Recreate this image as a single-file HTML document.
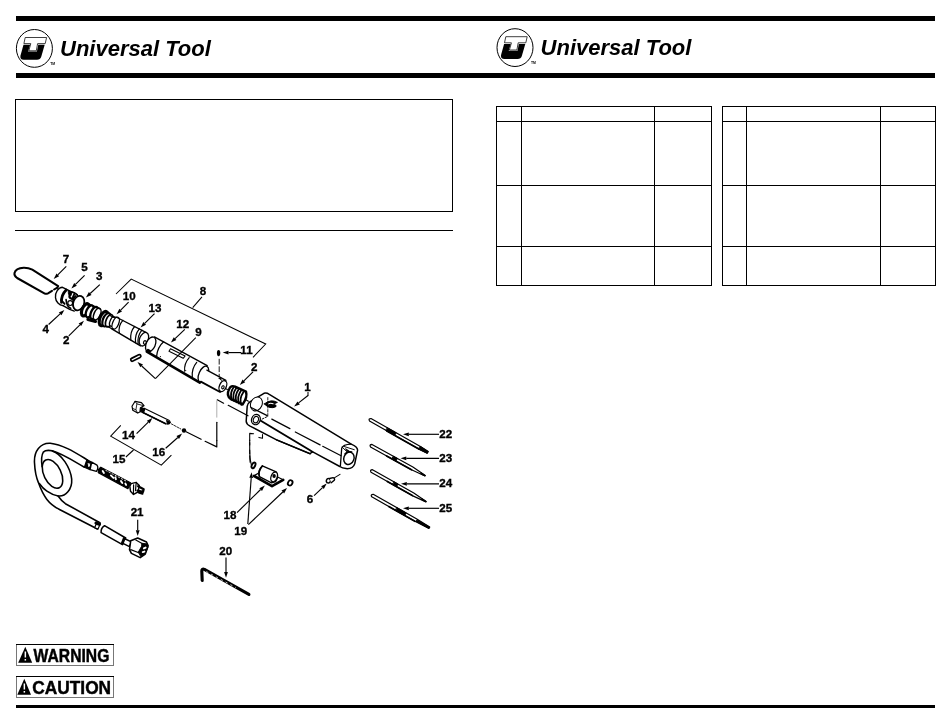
<!DOCTYPE html>
<html><head><meta charset="utf-8">
<style>
html,body{margin:0;padding:0;background:#fff;}
body{width:950px;height:721px;position:relative;overflow:hidden;font-family:"Liberation Sans",sans-serif;}
svg{position:absolute;left:0;top:0;will-change:transform;}
text{font-family:"Liberation Sans",sans-serif;}
</style></head><body>
<svg width="950" height="721" viewBox="0 0 950 721">
<!-- FRAME -->
<g id="frame" fill="#000" shape-rendering="crispEdges">
<rect x="16" y="16" width="919" height="5"/>
<rect x="16" y="73" width="919" height="5"/>
<rect x="16" y="705" width="919" height="3"/>
<!-- notice box -->
<rect x="15" y="99" width="438" height="1"/>
<rect x="15" y="211" width="438" height="1"/>
<rect x="15" y="99" width="1" height="113"/>
<rect x="452" y="99" width="1" height="113"/>
<rect x="15" y="230" width="438" height="1"/>
<!-- table 1 -->
<rect x="496" y="106" width="216" height="1"/>
<rect x="496" y="121" width="216" height="1"/>
<rect x="496" y="185" width="216" height="1"/>
<rect x="496" y="246" width="216" height="1"/>
<rect x="496" y="285" width="216" height="1"/>
<rect x="496" y="106" width="1" height="180"/>
<rect x="521" y="106" width="1" height="180"/>
<rect x="654" y="106" width="1" height="180"/>
<rect x="711" y="106" width="1" height="180"/>
<!-- table 2 -->
<rect x="722" y="106" width="214" height="1"/>
<rect x="722" y="121" width="214" height="1"/>
<rect x="722" y="185" width="214" height="1"/>
<rect x="722" y="246" width="214" height="1"/>
<rect x="722" y="285" width="214" height="1"/>
<rect x="722" y="106" width="1" height="180"/>
<rect x="746" y="106" width="1" height="180"/>
<rect x="880" y="106" width="1" height="180"/>
<rect x="935" y="106" width="1" height="180"/>
</g>
<!-- LOGOS -->
<defs>
<g id="logo">
<ellipse cx="34.4" cy="48.4" rx="18.0" ry="18.9" fill="#fff" stroke="#000" stroke-width="1"/>
<path d="M23.5 44.7 L44.7 44.7 L41.3 56.5 Q40.3 59.7 37 59.7 L23.8 59.7 Q19.6 59.7 20.5 55.5 Z" fill="#000"/>
<path d="M30.2 44.5 L28.1 51.5 L36.9 51.5 L38.3 44.5 Z" fill="#fff"/>
<path d="M25.2 37.5 L46.6 37.5 L45.2 43.6 L37.6 43.6 L36.3 50.8 L28.8 50.8 L30.8 43.6 L23.9 43.6 Z" fill="#fff" stroke="#000" stroke-width="0.75"/>
<text x="50.3" y="65.3" font-size="3.4" font-weight="bold">TM</text>
<text x="60" y="55.8" font-size="22" font-weight="bold" font-style="italic">Universal Tool</text>
</g>
</defs>
<use href="#logo"/>
<use href="#logo" x="480.6" y="-0.8"/>
<!-- LABELS -->
<!-- DIAGRAM -->
<g id="parts" stroke-linecap="round" stroke-linejoin="round">
<path d="M 57.1 287.9 L 58.2 286.1 L 32.3 269.7 Q 28.4 267.6 23.7 267.7 Q 15.7 268.1 14.5 273.0 Q 13.9 276.0 17.1 278.0 L 44.8 293.6 Q 46.2 294.2 48.0 293.3 L 52.0 290.8 M 54.1 289.5 L 56.1 288.3" fill="none" stroke="#000" stroke-width="2.04" />
<path d="M 62.5 287.3 L 77.3 294.6 L 84.0 299.7 L 75.6 311.1 L 69.7 309.4 L 63.0 305.6 C 59.2 305.2 55.8 301.8 55.5 297.6 C 54.9 292.5 58.3 287.5 62.5 287.3 Z" fill="#fff" stroke="none" stroke-width="0.0" />
<path d="M 63.0 305.6 C 59.2 305.2 55.8 301.8 55.5 297.6 C 54.9 292.5 58.3 287.5 62.5 287.3 L 77.3 294.6" fill="none" stroke="#000" stroke-width="1.38" />
<path d="M 63.0 305.6 L 69.7 309.4 L 74.3 311.1" fill="none" stroke="#000" stroke-width="1.44" />
<path d="M 66.2 289.9 C 63.0 293.0 61.2 297.2 61.5 302.3" fill="none" stroke="#000" stroke-width="2.76" />
<path d="M 61.1 300.1 L 64.6 303.9" fill="none" stroke="#000" stroke-width="1.92" />
<path d="M 68.6 291.1 L 72.0 292.5 L 70.7 296.1 L 68.8 294.6 Z" fill="#000" stroke="#000" stroke-width="0.96" />
<path d="M 69.9 294.6 C 68.8 296.7 69.3 298.2 72.0 298.9" fill="none" stroke="#000" stroke-width="2.16" />
<path d="M 74.1 294.6 C 73.1 296.1 72.3 297.4 73.1 299.3" fill="none" stroke="#000" stroke-width="1.92" />
<path d="M 66.1 299.7 C 66.4 303.9 68.1 307.3 70.7 308.2" fill="none" stroke="#000" stroke-width="1.68" />
<path d="M 71.8 291.9 C 74.7 292.5 76.8 294.2 77.7 295.9" fill="none" stroke="#000" stroke-width="1.2" />
<circle cx="70.2" cy="303.1" r="2.4" fill="#fff" stroke="#000" stroke-width="1.2"/>
<path d="M 75.8 295.9 C 72.0 298.8 71.8 306.0 75.8 310.3" fill="none" stroke="#000" stroke-width="1.56" />
<ellipse cx="78.7" cy="303.1" rx="5.39" ry="7.41" transform="rotate(20 78.7 303.1)" fill="#fff" stroke="#000" stroke-width="1.74"/>
<ellipse cx="85.4" cy="309.8" rx="3.28" ry="6.44" transform="rotate(24 85.4 309.8)" fill="#fff" stroke="#000" stroke-width="3.24"/>
<ellipse cx="89.7" cy="311.4" rx="3.28" ry="6.44" transform="rotate(24 89.7 311.4)" fill="#fff" stroke="#000" stroke-width="2.28"/>
<ellipse cx="94.2" cy="313.0" rx="3.28" ry="6.44" transform="rotate(24 94.2 313.0)" fill="#fff" stroke="#000" stroke-width="2.28"/>
<ellipse cx="97.2" cy="314.1" rx="3.16" ry="6.19" transform="rotate(24 97.2 314.1)" fill="#fff" stroke="#000" stroke-width="1.56"/>
<path d="M 87.3 303.5 L 99.9 308.7" fill="none" stroke="#000" stroke-width="1.44" />
<path d="M 87.9 319.5 L 95.5 321.4" fill="none" stroke="#000" stroke-width="3.12" />
<path d="M 116.0 317.0 L 145.9 332.3 L 140.6 345.8 L 112.2 329.1 Z" fill="#fff" stroke="none" stroke-width="0.0" />
<ellipse cx="103.7" cy="318.6" rx="3.79" ry="7.58" transform="rotate(22 103.7 318.6)" fill="#fff" stroke="#000" stroke-width="3.12"/>
<ellipse cx="106.5" cy="319.8" rx="3.54" ry="7.07" transform="rotate(22 106.5 319.8)" fill="#fff" stroke="#000" stroke-width="2.16"/>
<ellipse cx="109.3" cy="320.8" rx="3.28" ry="6.57" transform="rotate(22 109.3 320.8)" fill="#fff" stroke="#000" stroke-width="1.68"/>
<ellipse cx="112.6" cy="321.5" rx="2.53" ry="5.05" transform="rotate(22 112.6 321.5)" fill="#fff" stroke="#000" stroke-width="1.32"/>
<path d="M 110.3 315.7 L 116.6 318.6 M 107.2 326.2 L 113.1 329.4" fill="none" stroke="#000" stroke-width="1.2" />
<ellipse cx="115.7" cy="323.1" rx="3.03" ry="6.32" transform="rotate(22 115.7 323.1)" fill="#fff" stroke="#000" stroke-width="1.32"/>
<path d="M 116.0 317.0 L 145.9 332.3" fill="none" stroke="#000" stroke-width="1.32" />
<path d="M 112.2 329.1 L 140.6 345.8" fill="none" stroke="#000" stroke-width="1.56" />
<path d="M 122.9 320.3 Q 117.9 325.6 119.4 333.2" fill="none" stroke="#000" stroke-width="1.2" />
<path d="M 134.6 326.5 Q 129.9 331.9 130.8 339.9" fill="none" stroke="#000" stroke-width="1.2" />
<path d="M 139.4 328.9 Q 134.6 334.4 135.6 342.6" fill="none" stroke="#000" stroke-width="1.2" />
<path d="M 141.9 330.1 Q 137.1 335.7 138.1 344.0" fill="none" stroke="#000" stroke-width="1.2" />
<ellipse cx="143.9" cy="339.2" rx="4.29" ry="7.07" transform="rotate(22 143.9 339.2)" fill="#fff" stroke="#000" stroke-width="1.32"/>
<ellipse cx="144.9" cy="342.5" rx="1.39" ry="1.77" transform="rotate(22 144.9 342.5)" fill="#fff" stroke="#000" stroke-width="1.2"/>
<path d="M 154.4 336.9 L 207.2 365.7 L 199.8 382.7 L 146.8 351.6 Z" fill="#fff" stroke="none" stroke-width="0.0" />
<ellipse cx="150.7" cy="344.4" rx="4.55" ry="7.83" transform="rotate(24 150.7 344.4)" fill="#fff" stroke="#000" stroke-width="1.32"/>
<ellipse cx="203.4" cy="374.2" rx="4.42" ry="8.59" transform="rotate(24 203.4 374.2)" fill="#fff" stroke="#000" stroke-width="1.32"/>
<path d="M 154.4 336.9 L 207.2 365.7" fill="none" stroke="#000" stroke-width="1.32" />
<path d="M 146.8 351.6 L 199.8 382.7" fill="none" stroke="#000" stroke-width="2.64" />
<path d="M 163.6 341.7 Q 157.3 347.2 156.6 356.4" fill="none" stroke="#000" stroke-width="1.2" />
<path d="M 170.5 348.8 L 185.1 356.0 L 183.2 358.3 L 169.0 351.2 Z" fill="none" stroke="#000" stroke-width="1.08" />
<path d="M 189.2 357.6 Q 183.8 363.6 184.7 371.2" fill="none" stroke="#000" stroke-width="1.2" />
<path d="M 196.7 362.3 Q 191.4 368.6 192.3 377.1" fill="none" stroke="#000" stroke-width="1.2" />
<path d="M 205.4 369.3 L 225.9 380.4 L 220.0 392.0 L 200.3 381.4 Z" fill="#fff" stroke="none" stroke-width="0.0" />
<path d="M 206.9 370.1 L 225.9 380.4" fill="none" stroke="#000" stroke-width="1.32" />
<path d="M 200.8 381.6 L 220.0 392.0" fill="none" stroke="#000" stroke-width="1.8" />
<ellipse cx="222.9" cy="386.1" rx="3.41" ry="5.81" transform="rotate(24 222.9 386.1)" fill="#fff" stroke="#000" stroke-width="1.32"/>
<ellipse cx="222.9" cy="387.3" rx="1.14" ry="1.64" transform="rotate(24 222.9 387.3)" fill="#fff" stroke="#000" stroke-width="1.08"/>
<path d="M 148.0 350.1 L 149.8 351.1" fill="none" stroke="#000" stroke-width="2.4" />
<circle cx="160.4" cy="356.6" r="0.6"/>
<circle cx="185.7" cy="370.5" r="0.6"/>
<rect x="130.3" y="356.4" width="11" height="3" rx="1.5" transform="rotate(-27 135.8 357.9)" fill="#fff" stroke="#000" stroke-width="1.7"/>
<ellipse cx="218.6" cy="353.1" rx="1.7" ry="3.1" fill="#000"/>
<path d="M219.2 359.2 L219.2 376.5" stroke="#000" stroke-width="0.9" fill="none" stroke-dasharray="5 2.5"/>
<path d="M218 378 L222.5 381.5 L220.5 377.5Z" fill="#000"/>
<path d="M 229.1 389.2 Q 230.9 384.7 235.1 386.7 L 246.0 391.7 Q 247.7 397.3 242.7 404.4 L 230.8 399.1 Q 225.9 395.2 229.1 389.2 Z" fill="#fff" stroke="#000" stroke-width="2.4" />
<path d="M 233.9 386.7 Q 229.3 393.3 231.8 399.6" fill="none" stroke="#000" stroke-width="1.8" />
<path d="M 236.3 388.0 Q 231.7 394.5 234.2 400.8" fill="none" stroke="#000" stroke-width="1.8" />
<path d="M 238.7 389.3 Q 234.1 395.9 236.6 402.2" fill="none" stroke="#000" stroke-width="1.8" />
<path d="M 241.1 390.6 Q 236.5 397.2 239.0 403.5" fill="none" stroke="#000" stroke-width="1.8" />
<path d="M 243.5 392.0 Q 238.9 398.6 241.4 404.9" fill="none" stroke="#000" stroke-width="1.8" />
<path d="M 264.0 393.3 Q 266.3 392.3 269.3 394.3 L 351.2 444.1 Q 358.1 446.9 357.5 450.7 L 354.7 463.9 Q 353.1 469.0 346.1 468.6 Q 342.3 468.4 339.8 466.5 L 312.3 451.7 L 310.1 453.8 L 276.6 439.9 L 250.1 426.1 Q 246.1 423.9 246.2 421.0 L 247.2 406.2 Q 247.3 403.7 249.9 401.9 Z" fill="#fff" stroke="#000" stroke-width="1.5" />
<path d="M 351.2 444.1 Q 342.9 444.4 341.7 448.2 L 340.4 465.8" fill="none" stroke="#000" stroke-width="1.32" />
<ellipse cx="348.9" cy="458.3" rx="5.05" ry="6.32" transform="rotate(20 348.9 458.3)" fill="#fff" stroke="#000" stroke-width="1.44"/>
<path d="M 344.8 453.8 Q 347.4 450.7 351.8 451.9" fill="none" stroke="#000" stroke-width="1.2" />
<path d="M 260.8 420.7 L 309.2 449.7 L 312.3 451.7" fill="none" stroke="#000" stroke-width="1.92" />
<path d="M 276.6 439.9 L 310.1 453.8" fill="none" stroke="#000" stroke-width="1.2" />
<ellipse cx="256.4" cy="403.9" rx="5.68" ry="7.20" transform="rotate(25 256.4 403.9)" fill="#fff" stroke="#000" stroke-width="1.02"/>
<path d="M 251.1 407.5 L 267.2 415.6" fill="none" stroke="#000" stroke-width="1.2" />
<ellipse cx="255.9" cy="419.6" rx="4.29" ry="5.18" transform="rotate(20 255.9 419.6)" fill="#fff" stroke="#000" stroke-width="1.32"/>
<ellipse cx="255.9" cy="419.6" rx="2.53" ry="3.28" transform="rotate(20 255.9 419.6)" fill="#fff" stroke="#000" stroke-width="1.08"/>
<path d="M 264.3 403.9 Q 270.9 398.6 277.4 402.4 Q 274.4 403.7 273.3 404.2 Q 277.4 405.2 275.9 406.7 Q 270.1 409.8 264.3 403.9 Z" fill="#000" stroke="#000" stroke-width="0.96" />
<path d="M 268.4 403.9 Q 270.3 402.7 273.1 403.7" fill="none" stroke="#fff" stroke-width="1.08" />
<path d="M 267.8 397.6 L 267.8 416.3" fill="none" stroke="#000" stroke-width="0.84" stroke-dasharray="2.5 1.5"/>
<path d="M 262.1 419.1 L 267.2 416.6" fill="none" stroke="#000" stroke-width="0.96" stroke-dasharray="2 1.5"/>
<path d="M 271.8 419.1 L 289.9 428.6 M 295.3 432.0 L 320.1 444.9 M 322.7 446.3 L 341.1 455.7" fill="none" stroke="#000" stroke-width="1.2" />
<path d="M 342.1 447.1 L 346.9 451.7 M 343.8 446.4 L 354.3 449.7" fill="none" stroke="#000" stroke-width="0.96" />
<path d="M 345.9 448.9 L 351.2 452.5 L 347.4 451.2 Z" fill="#000" stroke="#000" stroke-width="0.96" />
<path d="M 249.7 433.4 L 253.6 433.8 M 249.7 433.4 L 249.7 440.6 M 249.7 442.5 L 249.7 453.8 M 249.7 455.7 L 250.1 462.1 M 258.9 437.4 L 262.5 438.3 L 262.5 434.5" fill="none" stroke="#000" stroke-width="1.08" />
<path d="M 249.7 440.0 L 249.7 445.1 M 249.7 450.1 L 250.1 458.9 L 251.3 464.6" fill="none" stroke="#000" stroke-width="1.08" />
<path d="M 254.1 475.7 L 263.6 470.3 L 283.2 479.8 L 272.0 486.2 Z" fill="#fff" stroke="#000" stroke-width="1.2" />
<path d="M 254.1 476.0 L 272.0 486.2 L 283.2 479.8" fill="none" stroke="#000" stroke-width="2.64" />
<path d="M 262.3 465.9 L 276.2 471.8 Q 279.4 476.0 275.6 481.7 L 271.5 482.9 L 259.4 476.6 Q 257.3 470.3 262.3 465.9 Z" fill="#fff" stroke="#000" stroke-width="1.32" />
<ellipse cx="274.1" cy="476.9" rx="3.03" ry="5.05" transform="rotate(20 274.1 476.9)" fill="#fff" stroke="#000" stroke-width="1.32"/>
<ellipse cx="274.1" cy="475.9" rx="0.88" ry="1.14" transform="rotate(0 274.1 475.9)" fill="#fff" stroke="#000" stroke-width="1.68"/>
<path d="M 259.4 476.6 Q 257.9 471.6 262.3 465.9" fill="none" stroke="#000" stroke-width="1.56" />
<ellipse cx="253.5" cy="465.3" rx="1.64" ry="3.03" transform="rotate(25 253.5 465.3)" fill="#fff" stroke="#000" stroke-width="1.92"/>
<ellipse cx="290.2" cy="482.9" rx="2.15" ry="2.78" transform="rotate(30 290.2 482.9)" fill="#fff" stroke="#000" stroke-width="1.8"/>
<ellipse cx="328.4" cy="480.7" rx="2.02" ry="2.27" transform="rotate(20 328.4 480.7)" fill="#fff" stroke="#000" stroke-width="1.44"/>
<path d="M 329.6 478.5 L 333.1 477.6 Q 335.2 478.5 334.3 480.2 L 331.2 482.7" fill="#fff" stroke="#000" stroke-width="1.44" />
<path d="M 334.3 477.9 L 340.0 474.4" fill="none" stroke="#000" stroke-width="1.08" />
<path d="M 369.5 421.0 L 418.8 449.1 L 427.2 453.3 L 428.2 451.5 L 420.4 446.4 L 371.0 418.5 Q 368.1 418.6 369.5 421.0" fill="#fff" stroke="#000" stroke-width="1.2" />
<path d="M 386.8 430.9 L 418.8 449.1" fill="none" stroke="#000" stroke-width="1.68" />
<path d="M 386.1 430.5 L 394.7 435.4 L 396.2 432.8 L 387.6 427.9 Z" fill="#000" stroke="#000" stroke-width="0.96" />
<path d="M 418.8 449.1 L 427.2 453.3 L 428.2 451.5 L 420.4 446.4 Z" fill="#000" stroke="#000" stroke-width="0.96" />
<path d="M 370.5 446.9 L 411.5 469.8 L 425.0 476.0 L 425.3 475.5 L 412.9 467.1 L 372.0 444.4 Q 369.1 444.5 370.5 446.9" fill="#fff" stroke="#000" stroke-width="1.2" />
<path d="M 386.6 456.0 L 411.5 469.8" fill="none" stroke="#000" stroke-width="1.68" />
<path d="M 392.1 459.1 L 395.9 461.1 L 397.4 458.4 L 393.6 456.4 Z" fill="#000" stroke="#000" stroke-width="0.96" />
<path d="M 421.1 474.2 L 425.0 476.0 L 425.3 475.5 L 421.6 473.1 Z" fill="#000" stroke="#000" stroke-width="0.96" />
<path d="M 371.0 472.2 L 412.3 495.6 L 425.9 501.9 L 426.2 501.4 L 413.8 492.9 L 372.5 469.7 Q 369.6 469.8 371.0 472.2" fill="#fff" stroke="#000" stroke-width="1.2" />
<path d="M 387.3 481.4 L 412.3 495.6" fill="none" stroke="#000" stroke-width="1.68" />
<path d="M 392.7 484.6 L 396.5 486.7 L 398.0 484.1 L 394.2 481.9 Z" fill="#000" stroke="#000" stroke-width="0.96" />
<path d="M 422.0 500.0 L 425.9 501.9 L 426.2 501.4 L 422.5 499.0 Z" fill="#000" stroke="#000" stroke-width="0.96" />
<path d="M 371.7 496.8 L 414.9 521.3 L 428.9 528.4 L 429.7 527.1 L 416.4 518.7 L 373.2 494.3 Q 370.3 494.4 371.7 496.8" fill="#fff" stroke="#000" stroke-width="1.2" />
<path d="M 388.8 506.6 L 414.9 521.3" fill="none" stroke="#000" stroke-width="1.68" />
<path d="M 395.6 510.5 L 404.7 515.5 L 406.2 512.9 L 397.1 507.8 Z" fill="#000" stroke="#000" stroke-width="0.96" />
<path d="M 416.3 521.5 L 428.9 528.4 L 429.7 527.1 L 417.3 519.9 Z" fill="#000" stroke="#000" stroke-width="0.96" />
<path d="M 144.2 408.2 L 168.8 420.2 Q 171.5 422.4 168.8 424.0 L 165.7 423.8 L 142.4 412.3 Z" fill="#fff" stroke="#000" stroke-width="1.08" />
<path d="M 142.4 412.3 L 165.7 423.8" fill="none" stroke="#000" stroke-width="1.56" />
<path d="M 166.7 420.6 L 170.2 422.5 L 167.6 423.9 Z" fill="#000" stroke="#000" stroke-width="1.2" />
<path d="M 140.4 407.0 L 144.7 409.0 L 143.7 412.3 L 139.7 411.5 Z" fill="#000" stroke="#000" stroke-width="1.2" />
<path d="M 135.1 401.3 L 141.4 402.6 L 144.0 405.7 L 140.4 407.7 L 139.9 412.0 L 137.6 413.0 L 132.8 410.3 L 132.0 406.2 Z" fill="#fff" stroke="#000" stroke-width="1.2" />
<path d="M 135.1 401.3 L 136.9 403.9 L 143.6 405.7 M 136.9 403.9 L 135.9 409.8 L 137.6 413.0 M 135.9 409.8 L 132.6 408.4" fill="none" stroke="#000" stroke-width="0.84" />
<circle cx="184.0" cy="430.5" r="2.2"/>
<path d="M 171.4 423.9 L 180.8 429.0" fill="none" stroke="#000" stroke-width="0.84" stroke-dasharray="2 1.2"/>
<path d="M 186.1 431.7 L 201.1 439.3 M 205.1 441.3 L 216.8 446.9 L 216.8 440.6" fill="none" stroke="#000" stroke-width="1.2" />
<path d="M 216.8 440.6 L 216.8 422.3" fill="none" stroke="#000" stroke-width="1.2" />
<path d="M 216.8 417.2 L 216.8 400.8" fill="none" stroke="#aaa" stroke-width="0.96" />
<path d="M 217.3 399.8 L 223.6 403.2 M 228.2 405.3 L 248.0 415.8" fill="none" stroke="#000" stroke-width="1.2" />
<path d="M 225.3 388.4 L 227.4 389.4 M 245.9 399.8 L 248.4 401.2" fill="none" stroke="#000" stroke-width="1.08" />
<path d="M 86.9 459.6 C 75.5 452.7 62.9 444.5 50.3 443.2 C 40.2 442.6 33.8 451.4 34.5 462.8 C 34.9 471.6 36.4 477.9 38.4 482.6 C 40.8 489.3 43.9 495.6 46.9 499.4 C 50.3 503.8 54.7 507.0 59.5 509.5 L 97.4 529.0 L 99.9 522.7 L 65.4 503.7 C 62.9 501.9 60.4 499.4 58.1 496.0 C 65.4 496.9 72.4 489.3 71.7 479.2 C 70.5 467.8 61.6 453.9 52.2 451.0 L 84.4 467.2 Z" fill="#fff" stroke="none" stroke-width="0.0" />
<path d="M 86.9 459.6 C 75.5 452.7 62.9 444.5 50.3 443.2 C 40.2 442.6 33.8 451.4 34.5 462.8 C 34.9 471.6 36.4 477.9 38.4 482.6 C 40.8 489.3 43.9 495.6 46.9 499.4 C 50.3 503.8 54.7 507.0 59.5 509.5 L 97.4 529.0" fill="none" stroke="#000" stroke-width="1.56" />
<path d="M 84.4 467.2 C 75.5 462.2 62.9 453.9 52.2 450.8 C 47.7 449.9 44.6 450.8 43.3 452.1 C 41.4 455.2 41.2 460.3 42.1 466.6" fill="none" stroke="#000" stroke-width="1.56" />
<ellipse cx="52.5" cy="473.9" rx="8.59" ry="15.41" transform="rotate(-26 52.5 473.9)" fill="#fff" stroke="#000" stroke-width="1.56"/>
<path d="M 52.2 451.0 C 61.6 453.9 70.5 467.8 71.7 479.2 C 72.4 489.3 65.4 496.9 58.1 495.9 C 54.7 495.4 50.3 493.4 46.9 491.1 C 43.9 489.3 42.1 487.4 39.3 483.5" fill="none" stroke="#000" stroke-width="1.56" />
<path d="M 58.1 496.0 C 60.4 499.4 62.9 501.9 65.4 503.7 L 99.9 522.7" fill="none" stroke="#000" stroke-width="1.56" />
<path d="M 86.9 459.6 L 91.7 462.2 L 90.1 469.7 L 84.4 467.2 Z" fill="#000" stroke="#000" stroke-width="1.2" />
<path d="M 88.2 463.4 L 88.8 466.6 M 89.7 463.8 L 89.4 465.9" fill="none" stroke="#fff" stroke-width="0.96" />
<path d="M 91.7 462.2 L 97.0 465.1 Q 98.9 467.8 96.4 471.4 L 90.1 469.7 Z" fill="#fff" stroke="#000" stroke-width="1.32" />
<path d="M 100.8 467.2 L 130.5 482.7 L 127.9 488.7 L 98.3 472.6 Q 97.6 469.1 100.8 467.2 Z" fill="#000" stroke="#000" stroke-width="1.2" />
<path d="M 102.7 471.0 L 103.9 472.9 M 110.9 475.4 L 113.4 477.9 M 115.3 477.3 L 115.9 479.2 M 121.0 481.1 L 122.3 483.0 M 125.4 483.6 L 126.1 484.9" fill="none" stroke="#fff" stroke-width="1.92" />
<path d="M 105.8 470.4 L 126.1 481.1" fill="none" stroke="#fff" stroke-width="0.84" stroke-dasharray="1.5 2"/>
<path d="M 131.1 483.6 L 136.2 482.4 L 139.3 485.5 L 138.1 491.8 L 133.6 494.4 L 130.5 491.2 L 129.8 486.2 Z" fill="#fff" stroke="#000" stroke-width="1.44" />
<path d="M 133.6 484.9 L 133.4 494.4 M 136.2 482.4 L 135.5 490.6" fill="none" stroke="#000" stroke-width="1.2" />
<path d="M 138.1 486.2 L 143.7 489.3 L 143.1 491.8 L 137.4 490.6 M 138.7 492.5 L 142.5 493.7" fill="none" stroke="#000" stroke-width="2.16" />
<path d="M 97.4 521.6 L 100.4 523.5 L 97.9 529.2 L 94.7 527.6 Z" fill="#fff" stroke="#000" stroke-width="1.2" />
<path d="M 96.0 523.1 L 99.4 524.4" fill="none" stroke="#000" stroke-width="3.12" />
<path d="M 104.5 525.7 L 125.7 538.0 L 122.5 544.6 L 101.1 532.6 Q 100.7 527.9 104.5 525.7 Z" fill="#fff" stroke="#000" stroke-width="1.56" />
<path d="M 124.2 538.5 L 131.4 541.8 L 129.5 546.6 L 122.4 543.1 Z" fill="#fff" stroke="#000" stroke-width="1.44" />
<path d="M 124.2 538.5 L 122.4 543.1" fill="none" stroke="#000" stroke-width="2.88" />
<path d="M 130.7 540.8 L 137.7 538.0 L 146.5 542.0 L 148.2 545.8 L 145.3 554.0 L 140.2 557.6 L 131.4 553.4 L 129.5 549.6 Z" fill="#fff" stroke="#000" stroke-width="1.56" />
<path d="M 142.1 543.3 L 147.2 543.9 L 147.8 547.7 L 145.3 553.4 L 140.8 556.6 L 138.3 552.1 L 141.5 546.5 Z" fill="#000" stroke="#000" stroke-width="0.96" />
<path d="M 135.8 540.1 L 142.1 543.6 M 130.7 549.6 L 138.9 552.8" fill="none" stroke="#000" stroke-width="1.2" />
<path d="M 143.9 548.4 L 145.6 547.6 M 142.7 552.1 L 144.4 551.6" fill="none" stroke="#fff" stroke-width="1.92" />
<path d="M 202.2 580.5 L 201.8 571.1 Q 201.8 568.5 204.4 569.4 L 248.9 594.4" fill="none" stroke="#000" stroke-width="3.12" />
<path d="M 206.6 571.7 L 235.7 587.5" fill="none" stroke="#fff" stroke-width="0.72" stroke-dasharray="1.5 4"/>
</g>
<g id="labels">
<text x="66.0" y="263.3" font-size="11.6" font-weight="bold" text-anchor="middle" stroke="#000" stroke-width="0.35">7</text>
<text x="84.6" y="270.8" font-size="11.6" font-weight="bold" text-anchor="middle" stroke="#000" stroke-width="0.35">5</text>
<text x="99.3" y="280.3" font-size="11.6" font-weight="bold" text-anchor="middle" stroke="#000" stroke-width="0.35">3</text>
<text x="45.7" y="333.4" font-size="11.6" font-weight="bold" text-anchor="middle" stroke="#000" stroke-width="0.35">4</text>
<text x="66.3" y="344.0" font-size="11.6" font-weight="bold" text-anchor="middle" stroke="#000" stroke-width="0.35">2</text>
<text x="129.3" y="300.1" font-size="11.6" font-weight="bold" text-anchor="middle" stroke="#000" stroke-width="0.35">10</text>
<text x="154.9" y="312.3" font-size="11.6" font-weight="bold" text-anchor="middle" stroke="#000" stroke-width="0.35">13</text>
<text x="182.8" y="328.3" font-size="11.6" font-weight="bold" text-anchor="middle" stroke="#000" stroke-width="0.35">12</text>
<text x="198.4" y="336.2" font-size="11.6" font-weight="bold" text-anchor="middle" stroke="#000" stroke-width="0.35">9</text>
<text x="203.0" y="295.1" font-size="11.6" font-weight="bold" text-anchor="middle" stroke="#000" stroke-width="0.35">8</text>
<text x="246.5" y="354.1" font-size="11.6" font-weight="bold" text-anchor="middle" stroke="#000" stroke-width="0.35">11</text>
<text x="254.3" y="370.5" font-size="11.6" font-weight="bold" text-anchor="middle" stroke="#000" stroke-width="0.35">2</text>
<text x="307.4" y="390.7" font-size="11.6" font-weight="bold" text-anchor="middle" stroke="#000" stroke-width="0.35">1</text>
<text x="128.4" y="439.3" font-size="11.6" font-weight="bold" text-anchor="middle" stroke="#000" stroke-width="0.35">14</text>
<text x="118.9" y="462.7" font-size="11.6" font-weight="bold" text-anchor="middle" stroke="#000" stroke-width="0.35">15</text>
<text x="158.7" y="456.0" font-size="11.6" font-weight="bold" text-anchor="middle" stroke="#000" stroke-width="0.35">16</text>
<text x="137.1" y="516.2" font-size="11.6" font-weight="bold" text-anchor="middle" stroke="#000" stroke-width="0.35">21</text>
<text x="225.8" y="555.0" font-size="11.6" font-weight="bold" text-anchor="middle" stroke="#000" stroke-width="0.35">20</text>
<text x="229.9" y="519.3" font-size="11.6" font-weight="bold" text-anchor="middle" stroke="#000" stroke-width="0.35">18</text>
<text x="240.8" y="534.8" font-size="11.6" font-weight="bold" text-anchor="middle" stroke="#000" stroke-width="0.35">19</text>
<text x="309.9" y="502.5" font-size="11.6" font-weight="bold" text-anchor="middle" stroke="#000" stroke-width="0.35">6</text>
<text x="445.7" y="438.2" font-size="11.6" font-weight="bold" text-anchor="middle" stroke="#000" stroke-width="0.35">22</text>
<text x="445.7" y="462.1" font-size="11.6" font-weight="bold" text-anchor="middle" stroke="#000" stroke-width="0.35">23</text>
<text x="445.7" y="487.4" font-size="11.6" font-weight="bold" text-anchor="middle" stroke="#000" stroke-width="0.35">24</text>
<text x="445.7" y="512.1" font-size="11.6" font-weight="bold" text-anchor="middle" stroke="#000" stroke-width="0.35">25</text>
<path d="M66.3 266.4 L57.8 274.9" stroke="#000" stroke-width="1.15" fill="none"/>
<path d="M53.7 279.0 L56.5 273.6 L59.1 276.2 Z" fill="#000"/>
<path d="M84.6 275.3 L75.5 284.4" stroke="#000" stroke-width="1.15" fill="none"/>
<path d="M71.4 288.5 L74.2 283.1 L76.8 285.7 Z" fill="#000"/>
<path d="M99.8 284.7 L90.2 293.5" stroke="#000" stroke-width="1.15" fill="none"/>
<path d="M85.9 297.4 L88.9 292.1 L91.5 294.9 Z" fill="#000"/>
<path d="M48.6 324.5 L60.1 313.9" stroke="#000" stroke-width="1.15" fill="none"/>
<path d="M64.4 310.0 L61.4 315.3 L58.8 312.5 Z" fill="#000"/>
<path d="M68.8 335.9 L79.9 324.8" stroke="#000" stroke-width="1.15" fill="none"/>
<path d="M84.0 320.7 L81.2 326.1 L78.6 323.5 Z" fill="#000"/>
<path d="M128.6 302.2 L120.7 310.1" stroke="#000" stroke-width="1.15" fill="none"/>
<path d="M116.6 314.2 L119.4 308.8 L122.0 311.4 Z" fill="#000"/>
<path d="M154.5 313.6 L144.7 323.4" stroke="#000" stroke-width="1.15" fill="none"/>
<path d="M140.6 327.5 L143.4 322.1 L146.0 324.7 Z" fill="#000"/>
<path d="M184.8 329.4 L175.1 338.6" stroke="#000" stroke-width="1.15" fill="none"/>
<path d="M170.9 342.6 L173.8 337.2 L176.4 340.0 Z" fill="#000"/>
<path d="M241.0 352.6 L228.5 352.6" stroke="#000" stroke-width="1.15" fill="none"/>
<path d="M222.7 352.6 L228.5 350.7 L228.5 354.5 Z" fill="#000"/>
<path d="M253.0 371.8 L243.9 380.9" stroke="#000" stroke-width="1.15" fill="none"/>
<path d="M239.8 385.0 L242.6 379.6 L245.2 382.2 Z" fill="#000"/>
<path d="M308.0 392.0 L308.0 396.0" stroke="#000" stroke-width="1.05" fill="none" />
<path d="M308.0 395.5 L298.6 402.9" stroke="#000" stroke-width="1.15" fill="none"/>
<path d="M294.1 406.5 L297.5 401.4 L299.8 404.4 Z" fill="#000"/>
<path d="M136.6 433.6 L148.3 422.1" stroke="#000" stroke-width="1.15" fill="none"/>
<path d="M152.4 418.0 L149.6 423.4 L146.9 420.7 Z" fill="#000"/>
<path d="M165.7 448.2 L177.8 437.5" stroke="#000" stroke-width="1.15" fill="none"/>
<path d="M182.1 433.6 L179.0 438.9 L176.5 436.0 Z" fill="#000"/>
<path d="M137.7 519.7 L137.7 530.3" stroke="#000" stroke-width="1.15" fill="none"/>
<path d="M137.7 536.1 L135.8 530.3 L139.6 530.3 Z" fill="#000"/>
<path d="M226.0 557.5 L226.0 571.9" stroke="#000" stroke-width="1.15" fill="none"/>
<path d="M226.0 577.7 L224.1 571.9 L227.9 571.9 Z" fill="#000"/>
<path d="M237.0 512.6 L260.6 489.5" stroke="#000" stroke-width="1.15" fill="none"/>
<path d="M264.8 485.5 L262.0 490.9 L259.3 488.2 Z" fill="#000"/>
<path d="M247.8 524.0 L251.2 478.0" stroke="#000" stroke-width="1.15" fill="none"/>
<path d="M251.6 472.2 L253.1 478.1 L249.3 477.8 Z" fill="#000"/>
<path d="M248.4 524.6 L282.8 492.0" stroke="#000" stroke-width="1.15" fill="none"/>
<path d="M287.0 488.0 L284.1 493.4 L281.5 490.6 Z" fill="#000"/>
<path d="M314.1 495.6 L322.5 487.6" stroke="#000" stroke-width="1.15" fill="none"/>
<path d="M326.7 483.6 L323.8 489.0 L321.2 486.2 Z" fill="#000"/>
<path d="M439.0 434.3 L408.8 434.3" stroke="#000" stroke-width="1.15" fill="none"/>
<path d="M403.0 434.3 L408.8 432.4 L408.8 436.2 Z" fill="#000"/>
<path d="M439.0 458.3 L406.3 458.3" stroke="#000" stroke-width="1.15" fill="none"/>
<path d="M400.5 458.3 L406.3 456.4 L406.3 460.2 Z" fill="#000"/>
<path d="M439.0 483.8 L406.8 483.8" stroke="#000" stroke-width="1.15" fill="none"/>
<path d="M401.0 483.8 L406.8 481.9 L406.8 485.7 Z" fill="#000"/>
<path d="M439.0 508.3 L408.8 508.3" stroke="#000" stroke-width="1.15" fill="none"/>
<path d="M403.0 508.3 L408.8 506.4 L408.8 510.2 Z" fill="#000"/>
<path d="M116.0 294.0 L131.2 279.1 L265.7 344.0 L253.0 357.3" stroke="#000" stroke-width="1.05" fill="none" />
<path d="M202.0 296.8 L192.7 307.6" stroke="#000" stroke-width="1.05" fill="none" />
<path d="M195.8 337.7 L155.4 378.7" stroke="#000" stroke-width="1.05" fill="none" />
<path d="M155.4 378.7 L141.7 366.0" stroke="#000" stroke-width="1.15" fill="none"/>
<path d="M137.5 362.0 L143.0 364.6 L140.4 367.3 Z" fill="#000"/>
<path d="M120.8 425.4 L110.7 436.2 L161.3 465.2 L171.4 455.1" stroke="#000" stroke-width="1.05" fill="none" />
<path d="M125.9 457.0 L133.5 450.0" stroke="#000" stroke-width="1.05" fill="none" />
</g>
<!-- WARNINGS -->
<g id="warn">
<rect x="16.5" y="644.5" width="97" height="21" fill="#fff" stroke="#777" stroke-width="1"/>
<rect x="16" y="644" width="98" height="1" fill="#000"/>
<rect x="16.5" y="676.5" width="97" height="21" fill="#fff" stroke="#777" stroke-width="1"/>
<rect x="16" y="676" width="98" height="1" fill="#000"/>
<path d="M25.3 646.8 L32.2 662.8 L18.2 662.8 Z" fill="#000"/>
<path d="M24.3 678.8 L31 694.8 L17.3 694.8 Z" fill="#000"/>
<rect x="24.6" y="651.5" width="1.5" height="6" fill="#fff"/><rect x="24.6" y="659" width="1.5" height="1.6" fill="#fff"/>
<rect x="23.6" y="683.5" width="1.5" height="6" fill="#fff"/><rect x="23.6" y="691" width="1.5" height="1.6" fill="#fff"/>
<text x="33.6" y="661.6" font-size="18" font-weight="bold" textLength="75.8" lengthAdjust="spacingAndGlyphs" stroke="#000" stroke-width="0.45">WARNING</text>
<text x="32.3" y="693.6" font-size="18" font-weight="bold" textLength="78.8" lengthAdjust="spacingAndGlyphs" stroke="#000" stroke-width="0.45">CAUTION</text>
</g>
</svg>
</body></html>
